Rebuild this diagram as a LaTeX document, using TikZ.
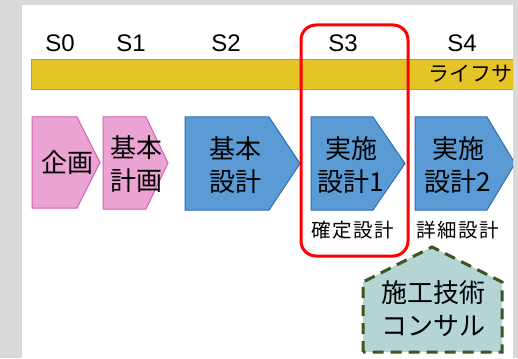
\documentclass[tikz,border=0pt]{standalone}
\usepackage{fontspec}
\setmainfont{Liberation Sans}
\newfontfamily\jp{Noto Sans CJK JP}
\newfontfamily\jpwide[LetterSpace=8]{Noto Sans CJK JP}
\usepackage{tikz}

\definecolor{framegray}{RGB}{217,217,217}
\definecolor{barfill}{RGB}{231,196,38}
\definecolor{barline}{RGB}{196,158,20}
\definecolor{pinkfill}{RGB}{234,163,210}
\definecolor{pinkline}{RGB}{214,96,176}
\definecolor{bluefill}{RGB}{91,155,213}
\definecolor{blueline}{RGB}{46,110,180}
\definecolor{consfill}{RGB}{181,212,212}
\definecolor{consline}{RGB}{56,87,35}

\tikzset{
  stage/.style={font=\fontsize{24}{28}\selectfont, inner sep=0pt},
  bar/.style={fill=barfill, draw=barline, line width=1pt},
  bartext/.style={font=\jp\fontsize{21}{25}\selectfont, inner sep=0pt},
  pinkbox/.style={fill=pinkfill, draw=pinkline, line width=1pt},
  bluebox/.style={fill=bluefill, draw=blueline, line width=1pt},
  boxtext/.style={font=\jp\fontsize{26}{33}\selectfont, align=center, inner sep=0pt},
  subtext/.style={font=\jpwide\fontsize{19.5}{22}\selectfont, inner sep=0pt},
  focus/.style={draw=red, line width=3pt, rounded corners=15pt},
  consult/.style={fill=consfill, draw=consline, line width=3pt, dash pattern=on 11pt off 7pt},
}

\begin{document}
\begin{tikzpicture}[x=1pt,y=-1pt]

	\useasboundingbox (0,0) rectangle (518,358);
	\fill[framegray] (0,0) rectangle (518,358);
	\fill[white] (22,5) rectangle (513,358);

	\begin{scope}
	\clip (22,5) rectangle (513,358);

	% stages
	\node[stage] (s0) at (60,43.5) {S0};
	\node[stage] (s1) at (131,43.5) {S1};
	\node[stage] (s2) at (226,43.5) {S2};
	\node[stage] (s3) at (343,43.5) {S3};
	\node[stage] (s4) at (462,43.5) {S4};

	% life cycle bar
	\draw[bar] (31,60) rectangle (540,90);
	\node[bartext, anchor=west] (life) at (428,74) {ライフサ};

	% planning
	\draw[pinkbox] (32,117) -- (77,117) -- (100,162.5) -- (77,208) -- (32,208) -- cycle;
	\node[boxtext] (kikaku) at (67,163) {企画};
	\draw[pinkbox] (103,117) -- (146,117) -- (168,163) -- (146,209) -- (103,209) -- cycle;
	\node[boxtext] (kihonkeikaku) at (136,164) {基本\\計画};

	% design
	\draw[bluebox] (185,117) -- (269,117) -- (300,163.5) -- (269,210) -- (185,210) -- cycle;
	\node[boxtext] (kihonsekkei) at (235,165) {基本\\設計};
	\draw[bluebox] (311,117) -- (373,117) -- (405,163.5) -- (373,210) -- (311,210) -- cycle;
	\node[boxtext] (jisshi1) at (351,165) {実施\\設計1};
	\draw[bluebox] (415,117) -- (487,117) -- (515,163.5) -- (487,210) -- (415,210) -- cycle;
	\node[boxtext] (jisshi2) at (458,165) {実施\\設計2};

	\node[subtext] (kakutei) at (353,230) {確定設計};
	\node[subtext] (shosai) at (458,230) {詳細設計};

	% consultant
	\draw[consult] (363,352) -- (363,282) -- (432,247) -- (502,282) -- (502,352) -- cycle;
	\node[boxtext] (consul) at (433,309) {施工技術\\コンサル};

	\end{scope}

	\draw[focus] (301,25) rectangle (408,256);

\end{tikzpicture}
\end{document}
